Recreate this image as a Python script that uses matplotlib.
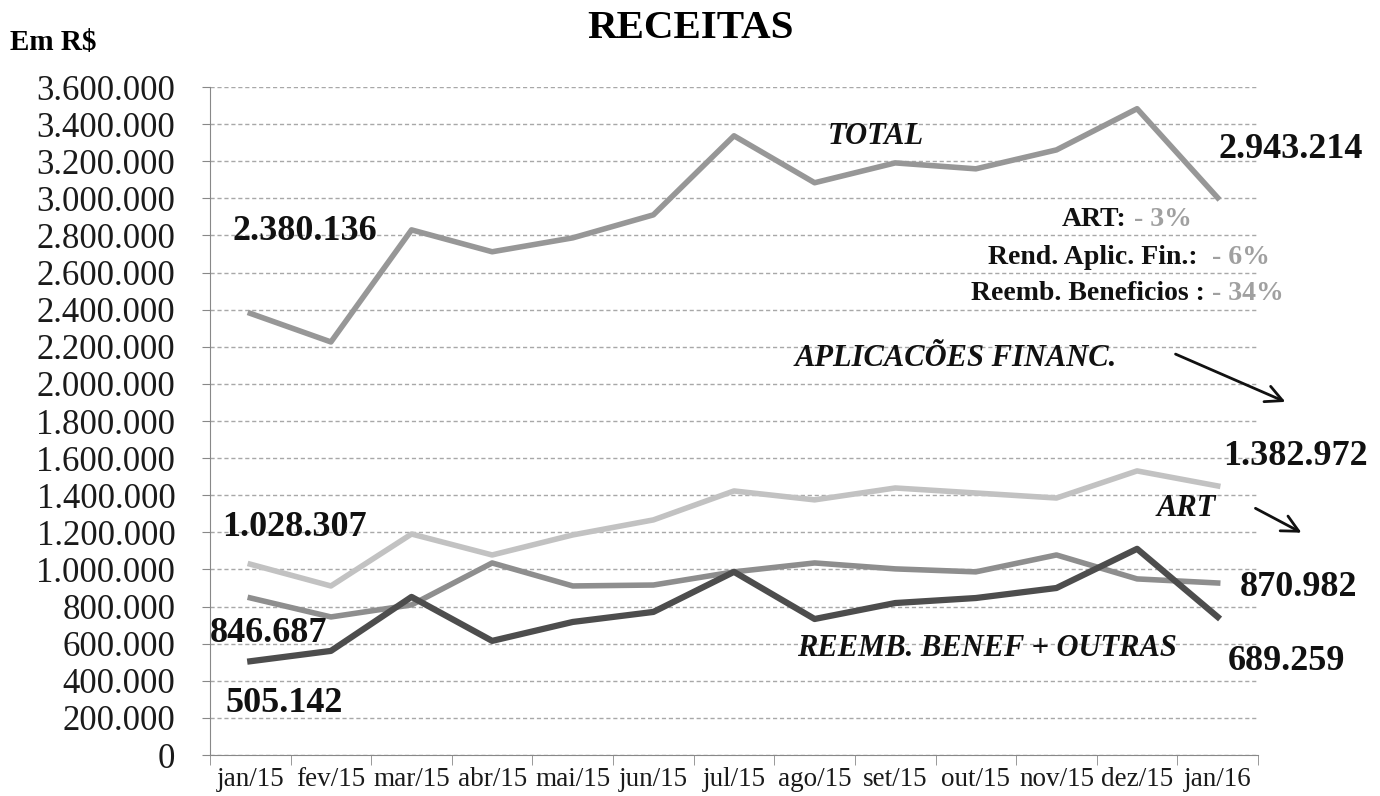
import matplotlib
matplotlib.use("Agg")
import matplotlib.pyplot as plt
from matplotlib.ticker import FuncFormatter, FixedLocator

plt.rcParams['font.family'] = ['Liberation Serif', 'DejaVu Serif']

# Data
months = ['jan/15', 'fev/15', 'mar/15', 'abr/15', 'mai/15', 'jun/15', 'jul/15',
          'ago/15', 'set/15', 'out/15', 'nov/15', 'dez/15', 'jan/16']
total = [2380136, 2226000, 2830000, 2712000, 2787000, 2911000, 3337000,
         3084000, 3191000, 3159000, 3261000, 3483000, 3003000]
aplic_financ = [1028307, 911000, 1191000, 1078000, 1186000, 1267000, 1423000,
                1375000, 1439000, 1412000, 1385000, 1531000, 1450000]
art = [846687, 744000, 809000, 1035000, 911000, 916000, 987000,
       1035000, 1003000, 987000, 1078000, 949000, 927000]
reemb = [505142, 561000, 852000, 615000, 717000, 771000, 987000,
         733000, 819000, 846000, 900000, 1111000, 744000]

W, H = 1380, 796
fig = plt.figure(figsize=(W / 100, H / 100), dpi=100)
ax = fig.add_axes([210 / W, 1 - 755 / H, (1258 - 210) / W, (755 - 87) / H])

x = list(range(len(months)))
ax.plot(x, total, color='#979797', lw=4)
ax.plot(x, aplic_financ, color='#c2c2c2', lw=4)
ax.plot(x, art, color='#8e8e8e', lw=4)
ax.plot(x, reemb, color='#4d4d4d', lw=4.5)

ax.set_xlim(-0.5, len(months) - 0.5)
ax.set_ylim(0, 3600000)
ax.set_yticks(range(0, 3600001, 200000))
ax.yaxis.set_major_formatter(FuncFormatter(lambda v, p: f"{int(v):,}".replace(",", ".")))
ax.set_xticks(x)
ax.set_xticklabels(months)
ax.xaxis.set_minor_locator(FixedLocator([i - 0.5 for i in range(len(months) + 1)]))

ax.tick_params(axis='y', labelsize=25, length=6, color='#888888', pad=19, labelcolor='#1a1a1a')
ax.tick_params(axis='x', which='major', labelsize=19.5, length=0, pad=9, labelcolor='#1a1a1a')
ax.tick_params(axis='x', which='minor', length=7, color='#888888')

ax.grid(axis='y', linestyle=(0, (3, 2)), color='#a8a8a8', lw=1)
ax.set_axisbelow(True)
for s in ['top', 'right']:
    ax.spines[s].set_visible(False)
ax.spines['left'].set_color('#888888')
ax.spines['bottom'].set_color('#888888')


def fx(px):
    return px / W


def fy(py):
    return 1 - py / H


# Title and unit
fig.text(fx(690), fy(29), 'RECEITAS', fontsize=29.5, fontweight='bold', ha='center', va='center')
fig.text(fx(10), fy(43), 'Em R$', fontsize=21, fontweight='bold', ha='left', va='center')

# Value labels
big = dict(fontsize=26, fontweight='bold', va='center', color='#111111')
fig.text(fx(233), fy(231), '2.380.136', ha='left', **big)
fig.text(fx(1218), fy(150), '2.943.214', ha='left', **big)
fig.text(fx(222), fy(528), '1.028.307', ha='left', **big)
fig.text(fx(210), fy(633), '846.687', ha='left', **big)
fig.text(fx(225), fy(703), '505.142', ha='left', **big)
fig.text(fx(1223), fy(456), '1.382.972', ha='left', **big)
fig.text(fx(1240), fy(588), '870.982', ha='left', **big)
fig.text(fx(1228), fy(662), '689.259', ha='left', **big)

# Series names
it = dict(fontsize=22, fontweight='bold', style='italic', va='center', color='#111111')
fig.text(fx(828), fy(136), 'TOTAL', ha='left', **it)
fig.text(fx(1117), fy(358), 'APLICACÕES FINANC.', ha='right', **it)
fig.text(fx(1216), fy(508), 'ART', ha='right', **it)
fig.text(fx(797), fy(648), 'REEMB. BENEF + OUTRAS', ha='left', **it)

# Percent variations
pct = [('ART:', ' - 3%', 1127, 220),
       ('Rend. Aplic. Fin.:', '  - 6%', 1198, 257),
       ('Reemb. Beneficios :', ' - 34%', 1205, 293)]
for name, val, xe, yc in pct:
    fig.text(fx(xe), fy(yc), name, fontsize=20, fontweight='bold', ha='right', va='center', color='#111111')
    fig.text(fx(xe), fy(yc), val, fontsize=20, fontweight='bold', ha='left', va='center', color='#a0a0a0')

# Arrows
arrow = dict(arrowstyle='->', color='#111111', lw=2, mutation_scale=30)
fig.add_artist(matplotlib.patches.FancyArrowPatch((fx(1173), fy(353)), (fx(1288), fy(403)),
                                                  transform=fig.transFigure, **arrow))
fig.add_artist(matplotlib.patches.FancyArrowPatch((fx(1253), fy(507)), (fx(1304), fy(534)),
                                                  transform=fig.transFigure, **arrow))

fig.savefig('out.png', dpi=100)
